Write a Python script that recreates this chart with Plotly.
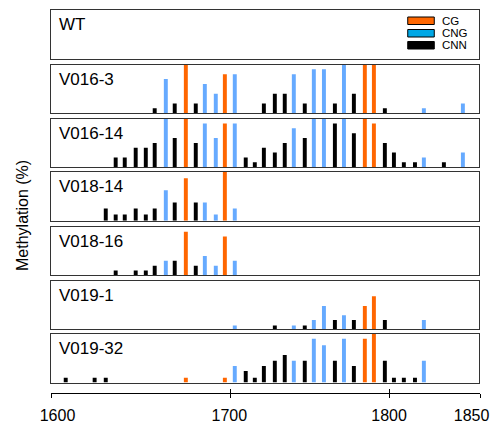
import plotly.graph_objects as go

# ---------------- data ----------------
positions = [1608.6, 1625.5, 1632.0, 1637.8, 1643.1, 1649.5, 1655.4, 1660.6, 1667.1, 1672.3,
             1678.8, 1684.6, 1689.9, 1696.3, 1701.6, 1707.4, 1713.8, 1719.1, 1724.4, 1730.8,
             1736.6, 1741.9, 1748.3, 1753.6, 1759.5, 1765.9, 1771.2, 1777.0, 1783.4, 1788.7,
             1795.1, 1800.4, 1806.2, 1812.7, 1817.9, 1829.6, 1840.7]
context = ["CNN", "CNN", "CNN", "CNN", "CNN", "CNN", "CNN", "CNN", "CNG", "CNN",
           "CG", "CNN", "CNG", "CNG", "CG", "CNG", "CNN", "CNN", "CNN", "CNN",
           "CNN", "CNG", "CNN", "CNG", "CNG", "CNN", "CNG", "CNN", "CG", "CG",
           "CNN", "CNN", "CNN", "CNN", "CNG", "CNN", "CNG"]

samples = ["WT", "V016-3", "V016-14", "V018-14", "V018-16", "V019-1", "V019-32"]

wt = [0] * 37
v016_3 = [0, 0, 0, 0, 0, 0, 0, 10, 70, 20, 100, 20, 60, 40, 80, 80, 0, 0, 20, 40,
          40, 80, 20, 90, 90, 20, 100, 40, 100, 100, 10, 0, 0, 0, 10, 0, 20]
v016_14 = [0, 0, 0, 20, 20, 40, 40, 50, 100, 60, 100, 50, 90, 60, 90, 90, 20, 10, 40, 30,
           50, 80, 60, 100, 100, 90, 100, 70, 100, 90, 50, 30, 10, 10, 20, 10, 30]
v018_14 = [0, 0, 25, 12.5, 12.5, 25, 12.5, 25, 62.5, 37.5, 87.5, 37.5, 37.5, 12.5, 100, 25, 0, 0, 0, 0,
           0, 0, 0, 0, 0, 0, 0, 0, 0, 0, 0, 0, 0, 0, 0, 0, 0]
v018_16 = [0, 0, 0, 10, 0, 10, 10, 20, 30, 30, 90, 20, 40, 20, 80, 30, 0, 0, 0, 0,
           0, 0, 0, 0, 0, 0, 0, 0, 0, 0, 0, 0, 0, 0, 0, 0, 0]
v019_1 = [0, 0, 0, 0, 0, 0, 0, 0, 0, 0, 0, 0, 0, 0, 0, 8, 0, 0, 0, 8,
          0, 8, 8, 19, 48, 19, 29, 19, 48, 68, 19, 0, 0, 0, 19, 0, 0]
v019_32 = [10, 10, 10, 0, 0, 0, 0, 0, 0, 0, 10, 0, 0, 0, 10, 34, 24, 10, 34, 45,
           57, 45, 45, 90, 77, 45, 90, 34, 90, 100, 45, 10, 10, 10, 45, 0, 0]
values = [wt, v016_3, v016_14, v018_14, v018_16, v019_1, v019_32]

legend_labels = ["CG", "CNG", "CNN"]
tick_labels = ["1600", "1700", "1800", "1850"]
tick_positions = [1600, 1704.56, 1797.28, 1850]
label_positions = [1603.8, 1703.9, 1797.0, 1845.1]
x_range = [1600, 1850]
y_title = "Methylation (%)"

# ---------------- style ----------------
bar_colors = {"CG": "#FF6600", "CNG": "#66AAFF", "CNN": "#000000"}
legend_colors = {"CG": "#FF6600", "CNG": "#00A8E6", "CNN": "#000000"}
FONT = "Arial, Liberation Sans, sans-serif"
W, H = 490, 424
PLOT_L, PLOT_R, PLOT_T, PLOT_B = 51, 479.7, 10, 393   # pixels
L, T = PLOT_L, PLOT_T
R, B = W - PLOT_R, H - PLOT_B
pw = PLOT_R - PLOT_L
ph = PLOT_B - PLOT_T


def fx(px):
    return (px - PLOT_L) / pw


def fy(py):
    return (PLOT_B - py) / ph


tops = [10, 64.5, 118.6, 172.1, 226.8, 280.7, 334]
panel_h = 48.6
panel_right = 478.5
box_color = "#333333"

fig = go.Figure()
layout = {}
annotations = []
shapes = []

for i, (name, vals) in enumerate(zip(samples, values)):
    k = i + 1
    xa = "x" if k == 1 else f"x{k}"
    ya = "y" if k == 1 else f"y{k}"
    fig.add_trace(go.Scatter(x=[None], y=[None], xaxis=xa, yaxis=ya, showlegend=False,
                             hoverinfo="skip", mode="markers"))
    for ctx in ["CG", "CNG", "CNN"]:
        xs = [p for p, c, v in zip(positions, context, vals) if c == ctx and v > 0]
        ys = [v for p, c, v in zip(positions, context, vals) if c == ctx and v > 0]
        if xs:
            fig.add_trace(go.Bar(x=xs, y=ys, width=2.3, xaxis=xa, yaxis=ya,
                                 marker=dict(color=bar_colors[ctx], line=dict(width=0)),
                                 showlegend=False, name=ctx))
    layout[f"xaxis{k}"] = dict(domain=[0, fx(panel_right)], range=x_range, anchor=ya,
                               showticklabels=False, ticks="", showgrid=False, zeroline=False,
                               showline=True, mirror=True, linecolor=box_color, linewidth=1,
                               fixedrange=True, automargin=False)
    layout[f"yaxis{k}"] = dict(domain=[fy(tops[i] + panel_h), fy(tops[i])], range=[0, 100],
                               anchor=xa, showticklabels=False, ticks="", showgrid=False,
                               zeroline=False, showline=True, mirror=True, linecolor=box_color,
                               linewidth=1, fixedrange=True, automargin=False)
    annotations.append(dict(text=name, xref="paper", yref="paper", x=fx(57), y=fy(tops[i] + 14.5),
                            xanchor="left", yanchor="middle", showarrow=False,
                            font=dict(family=FONT, size=17, color="#000000")))

# bottom tick axis: ticks crossing the line (outside + inside), labels on a third overlay
for ax in ["x8", "x9", "x10"]:
    fig.add_trace(go.Scatter(x=[None], y=[None], xaxis=ax, yaxis="y8", showlegend=False,
                             hoverinfo="skip", mode="markers"))
layout["xaxis8"] = dict(domain=[0, 1], range=x_range, anchor="y8", side="bottom",
                        showline=True, linecolor="#000000", linewidth=1,
                        ticks="outside", ticklen=4, tickwidth=1, tickcolor="#000000",
                        tickvals=tick_positions, showticklabels=False, automargin=False,
                        showgrid=False, zeroline=False, fixedrange=True)
layout["xaxis9"] = dict(range=x_range, anchor="y8", overlaying="x8", side="bottom",
                        showline=False, ticks="inside", ticklen=4, tickwidth=1,
                        tickcolor="#000000", tickvals=tick_positions, showticklabels=False,
                        showgrid=False, zeroline=False, fixedrange=True, automargin=False)
layout["xaxis10"] = dict(range=x_range, anchor="y8", overlaying="x8", side="bottom",
                         showline=False, ticks="outside", ticklen=4, tickcolor="rgba(0,0,0,0)",
                         tickvals=label_positions, ticktext=tick_labels,
                         tickfont=dict(family=FONT, size=16, color="#000000"),
                         ticklabelstandoff=4, ticklabeloverflow="allow",
                         showgrid=False, zeroline=False, fixedrange=True, automargin=False)
layout["yaxis8"] = dict(domain=[0, 0.005], visible=False, range=[0, 1], fixedrange=True,
                        automargin=False)

# legend drawn inside the WT panel
leg_tops = [17, 29.5, 41.5]
for lab, yt in zip(legend_labels, leg_tops):
    shapes.append(dict(type="rect", xref="paper", yref="paper",
                       x0=fx(407.5), x1=fx(434), y0=fy(yt + 7.5), y1=fy(yt),
                       fillcolor=legend_colors[lab], line=dict(color="#000000", width=1)))
    annotations.append(dict(text=lab, xref="paper", yref="paper", x=fx(440), y=fy(yt + 3.8),
                            xanchor="left", yanchor="middle", showarrow=False,
                            font=dict(family=FONT, size=11.5, color="#000000")))

annotations.append(dict(text=y_title, xref="paper", yref="paper", x=fx(22), y=fy(215),
                        xanchor="center", yanchor="middle", textangle=-90, showarrow=False,
                        font=dict(family=FONT, size=16, color="#000000")))

fig.update_layout(**layout)
fig.update_layout(width=W, height=H, autosize=False, margin=dict(l=L, r=R, t=T, b=B, pad=0),
                  paper_bgcolor="white", plot_bgcolor="white", barmode="overlay",
                  annotations=annotations, shapes=shapes, showlegend=False,
                  hovermode=False, font=dict(family=FONT))

fig.write_html("out.html",
               config={"responsive": False, "displayModeBar": False, "staticPlot": True},
               post_script="document.body.style.margin='0';document.body.style.overflow='hidden';")
